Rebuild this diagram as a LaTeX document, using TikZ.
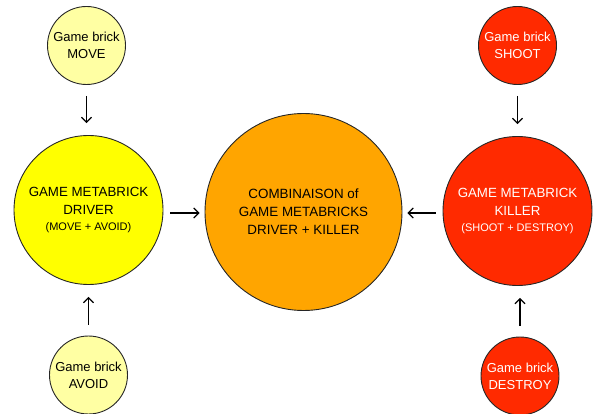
\documentclass[tikz,border=0pt]{standalone}
\usepackage{fontspec}
\setmainfont{Liberation Sans}
\usetikzlibrary{arrows.meta}
\definecolor{lightyel}{HTML}{FFFFA3}
\definecolor{brightyel}{HTML}{FFFF00}
\definecolor{orangec}{HTML}{FFA500}
\definecolor{redc}{HTML}{FF2A00}
\tikzset{
  brick/.style={circle, draw=black!85, line width=0.9pt, inner sep=0pt, minimum size=78pt, align=center, font=\fontsize{13}{17}\selectfont},
  meta/.style={circle, draw=black!85, line width=0.9pt, inner sep=0pt, minimum size=149pt, align=center, font=\fontsize{13.3}{18}\selectfont},
  combo/.style={circle, draw=black!85, line width=0.9pt, inner sep=0pt, minimum size=197pt, align=center, font=\fontsize{13.4}{18}\selectfont},
  conn/.style={line width=1.2pt, -{Straight Barb[length=5pt,width=10pt,line width=1.2pt]}},
  vconn/.style={conn, shorten <=11pt, shorten >=12pt},
  hconn/.style={conn, shorten <=7pt, shorten >=5pt},
}
\begin{document}
\begin{tikzpicture}[x=1pt,y=-1pt]
\useasboundingbox (0,0) rectangle (595,414);
\node[brick, fill=lightyel] (move) at (86.5,45.5) {Game brick\\MOVE};
\node[brick, fill=lightyel] (avoid) at (88.5,375) {Game brick\\AVOID};
\node[brick, fill=redc, text=white] (shoot) at (517.5,45.5) {Game brick\\SHOOT};
\node[brick, fill=redc, text=white] (destroy) at (520,376) {Game brick\\DESTROY};
\node[meta, fill=brightyel] (driver) at (88.5,210) {GAME METABRICK\\DRIVER\\[-2pt]{\fontsize{11}{14}\selectfont(MOVE + AVOID)}};
\node[meta, fill=redc, text=white] (killer) at (517.5,211) {GAME METABRICK\\KILLER\\[-2pt]{\fontsize{11}{14}\selectfont(SHOOT + DESTROY)}};
\node[combo, fill=orangec] (combo) at (303.5,212) {COMBINAISON of\\GAME METABRICKS\\DRIVER + KILLER};
\draw[vconn] (move) -- (move |- driver.north);
\draw[vconn] (avoid) -- (avoid |- driver.south);
\draw[vconn] (shoot) -- (shoot |- killer.north);
\draw[vconn] (destroy) -- (destroy |- killer.south);
\draw[hconn] (driver.east |- 0,213) -- (combo.west |- 0,213);
\draw[hconn] (killer.west |- 0,213) -- (combo.east |- 0,213);
\end{tikzpicture}
\end{document}
